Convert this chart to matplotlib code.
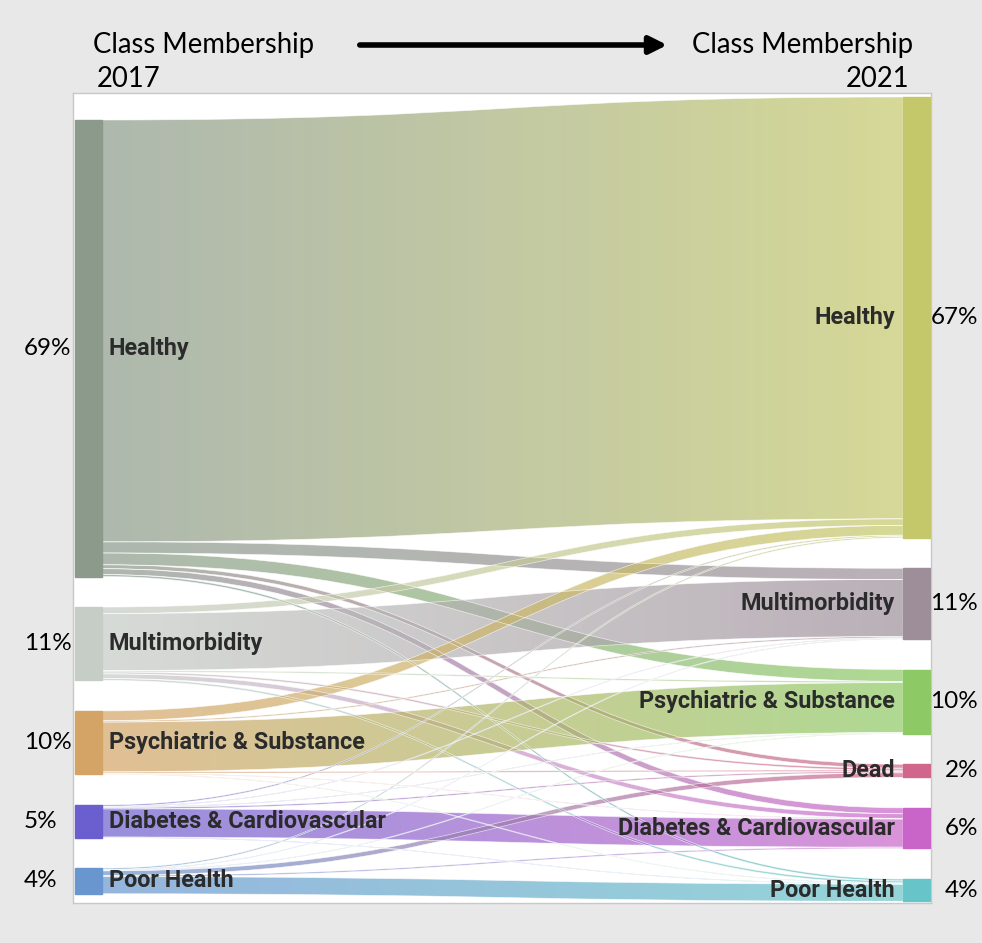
import numpy as np
import matplotlib.pyplot as plt
import matplotlib.transforms as mtransforms
from matplotlib.path import Path
from matplotlib.patches import PathPatch, Rectangle, FancyArrowPatch
from matplotlib.colors import to_rgb

# Clases 2017 (izquierda) y 2021 (derecha)
left_names = ["Healthy", "Multimorbidity", "Psychiatric & Substance",
              "Diabetes & Cardiovascular", "Poor Health"]
right_names = ["Healthy", "Multimorbidity", "Psychiatric & Substance", "Dead",
               "Diabetes & Cardiovascular", "Poor Health"]
left_pct = ["69%", "11%", "10%", "5%", "4%"]
right_pct = ["67%", "11%", "10%", "2%", "6%", "4%"]

left_colors = ["#8b9a8b", "#c6ccc6", "#d4a467", "#6b5fcf", "#6996cf"]
right_colors = ["#c4c86a", "#9d8e99", "#8dc965", "#d0668c", "#c965c9", "#67c4c8"]

# transiciones en % de la muestra: filas = clase 2017, columnas = clase 2021
flows = [
    [64.4, 1.7, 1.8, 0.6, 0.9, 0.3],
    [1.0, 8.7, 0.2, 0.3, 0.7, 0.3],
    [1.5, 0.2, 7.6, 0.2, 0.1, 0.1],
    [0.2, 0.1, 0.1, 0.2, 4.3, 0.1],
    [0.2, 0.1, 0.1, 0.7, 0.2, 2.6],
]

F = np.array(flows)
left_sizes = F.sum(axis=1)
right_sizes = F.sum(axis=0)

W, H = 982, 943
fig = plt.figure(figsize=(W / 100, H / 100), dpi=100, facecolor="#e8e8e8")
# caja blanca del diagrama
ax = fig.add_axes([73 / W, 1 - 903 / H, 858 / W, 810 / H])
ax.set_facecolor("white")
for s in ax.spines.values():
    s.set_color("#c8c8c8")
    s.set_linewidth(1)
ax.set_xticks([])
ax.set_yticks([])

px = 6.55                 # pixeles por punto porcentual
ylim_top = 0.0
ylim_bot = 810 / px
gap = 30.5 / px
node_w = 27 / 858
xl = 2 / 858
xr = 830 / 858


def stack(sizes, top):
    ys = []
    y = top
    for s in sizes:
        ys.append(y)
        y += s + gap
    return ys


left_y = stack(left_sizes, 27 / px)
right_y = stack(right_sizes, 4 / px)


def band(xa, xb, y0, y1, w, c0, c1, alpha=0.7):
    xm = (xa + xb) / 2
    verts = [(xa, y0), (xm, y0), (xm, y1), (xb, y1), (xb, y1 + w),
             (xm, y1 + w), (xm, y0 + w), (xa, y0 + w), (xa, y0)]
    codes = [Path.MOVETO, Path.CURVE4, Path.CURVE4, Path.CURVE4, Path.LINETO,
             Path.CURVE4, Path.CURVE4, Path.CURVE4, Path.CLOSEPOLY]
    path = Path(verts, codes)
    patch = PathPatch(path, facecolor="none", edgecolor="none")
    ax.add_patch(patch)
    t = np.linspace(0, 1, 256)[:, None]
    grad = np.ones((1, 256, 4))
    grad[0, :, :3] = (1 - t) * np.array(to_rgb(c0)) + t * np.array(to_rgb(c1))
    grad[0, :, 3] = alpha
    im = ax.imshow(grad, extent=[xa, xb, max(y0, y1) + w, min(y0, y1)],
                   aspect="auto", interpolation="bilinear", zorder=1)
    im.set_clip_path(patch)
    ax.add_patch(PathPatch(path, facecolor="none", edgecolor="white",
                           lw=0.5, alpha=0.7, zorder=2))


out_off = list(left_y)
in_off = list(right_y)
for i in range(len(left_names)):
    for j in range(len(right_names)):
        w = F[i, j]
        band(xl + node_w, xr, out_off[i], in_off[j], w,
             left_colors[i], right_colors[j])
        out_off[i] += w
        in_off[j] += w

# nodos
for y, s, c in zip(left_y, left_sizes, left_colors):
    ax.add_patch(Rectangle((xl, y), node_w, s, color=c, zorder=3))
for y, s, c in zip(right_y, right_sizes, right_colors):
    ax.add_patch(Rectangle((xr, y), node_w, s, color=c, zorder=3))

lab_font = dict(family=["Roboto", "DejaVu Sans"], fontweight="bold",
                fontsize=16.8, color="#2b2b2b", va="center", zorder=4)
for name, y, s in zip(left_names, left_y, left_sizes):
    ax.text(xl + node_w + 7 / 858, y + s / 2, name, ha="left", **lab_font)
for name, y, s in zip(right_names, right_y, right_sizes):
    ax.text(xr - 8 / 858, y + s / 2, name, ha="right", **lab_font)

ax.set_xlim(0, 1)
ax.set_ylim(ylim_bot, ylim_top)

# porcentajes fuera de la caja
cal = ["Lato", "DejaVu Sans"]
tr = mtransforms.blended_transform_factory(fig.transFigure, ax.transData)
for p, y, s in zip(left_pct, left_y, left_sizes):
    ax.text(24 / W, y + s / 2, p, transform=tr, ha="left", va="center",
            fontsize=17.5, family=cal, clip_on=False)
for p, y, s in zip(right_pct, right_y, right_sizes):
    ax.text(978 / W, y + s / 2, p, transform=tr, ha="right", va="center",
            fontsize=17.5, family=cal, clip_on=False)

# encabezados
fig.text(93 / W, 1 - 45 / H, "Class Membership", ha="left", va="center",
         fontsize=19.8, family=cal)
fig.text(97 / W, 1 - 79 / H, "2017", ha="left", va="center",
         fontsize=19.8, family=cal)
fig.text(913 / W, 1 - 45 / H, "Class Membership", ha="right", va="center",
         fontsize=19.8, family=cal)
fig.text(909 / W, 1 - 79 / H, "2021", ha="right", va="center",
         fontsize=19.8, family=cal)
fig.add_artist(FancyArrowPatch((357 / W, 1 - 45 / H), (670 / W, 1 - 45 / H),
                               transform=fig.transFigure, arrowstyle="-|>",
                               mutation_scale=26, lw=4, color="black"))

fig.savefig("out.png", dpi=100, facecolor=fig.get_facecolor())
